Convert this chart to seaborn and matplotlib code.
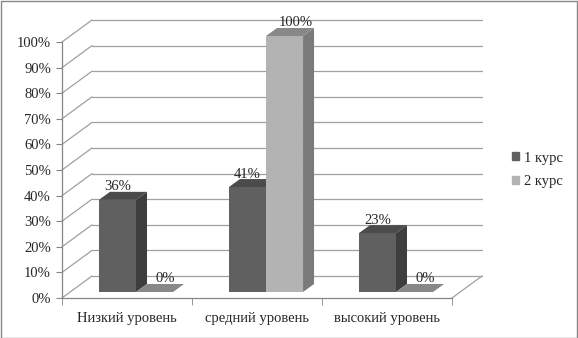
import pandas as pd
import matplotlib.pyplot as plt
import seaborn as sns
from matplotlib.patches import Polygon, Rectangle

# Chart data
levels = ['Низкий уровень', 'средний уровень', 'высокий уровень']
course_names = ['1 курс', '2 курс']
course1 = [36, 41, 23]
course2 = [0, 100, 0]
yticks = list(range(0, 101, 10))

df = pd.DataFrame({
    'level': levels * 2,
    'course': [course_names[0]] * 3 + [course_names[1]] * 3,
    'value': course1 + course2,
})

sns.set_style('white')
plt.rcParams['font.family'] = ['Liberation Serif', 'DejaVu Serif']
plt.rcParams['font.size'] = 10.5

# colours of the pseudo-3D faces
front = ['#606060', '#b3b3b3']
tops = ['#4b4b4b', '#888888']
sides = ['#3e3e3e', '#7a7a7a']
grid_c = '#a0a0a0'
axis_c = '#868686'

W, H = 578, 338
fig = plt.figure(figsize=(W / 100, H / 100), dpi=100)
ax = fig.add_axes([62 / W, 40 / H, 390 / W, 256 / H])

sns.barplot(data=df, x='level', y='value', hue='course', palette=front,
            width=0.57, gap=0, saturation=1, linewidth=0, legend=False, ax=ax)
ax.set_xlim(-0.5, 2.5)
ax.set_ylim(0, 100)

# pixel -> data conversion
bb = ax.get_window_extent()
sx = 3 / bb.width
sy = 100 / bb.height

# back wall, side wall and floor
for t in yticks:
    ax.plot([-0.5 + 30 * sx, 2.5 + 30 * sx], [t + 22 * sy] * 2, color=grid_c,
            lw=0.9, clip_on=False, zorder=0)
    ax.plot([-0.5, -0.5 + 30 * sx], [t, t + 22 * sy], color=grid_c,
            lw=0.9, clip_on=False, zorder=0)
ax.plot([2.5, 2.5 + 30 * sx], [0, 22 * sy], color=grid_c, lw=0.9,
        clip_on=False, zorder=0)

# 3D bars built on seaborn's bars
bx, by = 9 * sx, 6 * sy
dx, dy = 11 * sx, 8 * sy
for i, cont in enumerate(ax.containers):
    for bar in cont:
        k = int(round(bar.get_x() + bar.get_width() / 2))
        z = 2 + (k * 2 + i) * 0.1
        x0 = bar.get_x() + bx
        w = bar.get_width()
        h = bar.get_height()
        y0 = by
        bar.set_x(x0)
        bar.set_y(y0)
        bar.set_zorder(z)
        bar.set_clip_on(False)
        side = Polygon([(x0 + w, y0), (x0 + w + dx, y0 + dy),
                        (x0 + w + dx, y0 + h + dy), (x0 + w, y0 + h)],
                       closed=True, fc=sides[i], ec='none', zorder=z, clip_on=False)
        top = Polygon([(x0, y0 + h), (x0 + w, y0 + h),
                       (x0 + w + dx, y0 + h + dy), (x0 + dx, y0 + h + dy)],
                      closed=True, fc=tops[i], ec='none', zorder=z, clip_on=False)
        ax.add_patch(side)
        ax.add_patch(top)
        lx = x0 + w / 2 + (11 * sx if i == 1 else 0)
        ax.text(lx, y0 + h + dy + 5 * sy, f'{h:.0f}%', ha='center', va='center',
                fontsize=10.5, zorder=5, clip_on=False)

# axes styling
for s in ['top', 'right']:
    ax.spines[s].set_visible(False)
for s in ['left', 'bottom']:
    ax.spines[s].set_color(axis_c)
    ax.spines[s].set_linewidth(0.9)
ax.set_yticks(yticks)
ax.set_yticklabels([f'{t}%' for t in yticks])
ax.set_xticks(range(len(levels)))
ax.set_xticklabels(levels)
ax.set_xticks([-0.5, 0.5, 1.5, 2.5], minor=True)
ax.tick_params(axis='y', left=True, length=4, color=axis_c, pad=4, labelsize=10.5)
ax.tick_params(axis='x', which='major', bottom=True, length=0, pad=10, labelsize=10.5)
ax.tick_params(axis='x', which='minor', bottom=True, length=5, color=axis_c)
ax.set_xlabel('')
ax.set_ylabel('')
ax.set_facecolor('none')

# legend
handles = [Rectangle((0, 0), 1, 1, color=c) for c in front]
fig.legend(handles, course_names, loc='center left',
           bbox_to_anchor=(512 / W, 1 - 170 / H), frameon=False,
           handlelength=0.45, handleheight=0.45, handletextpad=0.4,
           labelspacing=0.75, fontsize=10.5, borderaxespad=0, borderpad=0)

# outer border
fig.add_artist(Rectangle((0.5 / W, 0.5 / H), 1 - 1.5 / W, 1 - 1.5 / H,
                         transform=fig.transFigure, fill=False,
                         ec=axis_c, lw=1))

fig.savefig('out.png', dpi=100)
